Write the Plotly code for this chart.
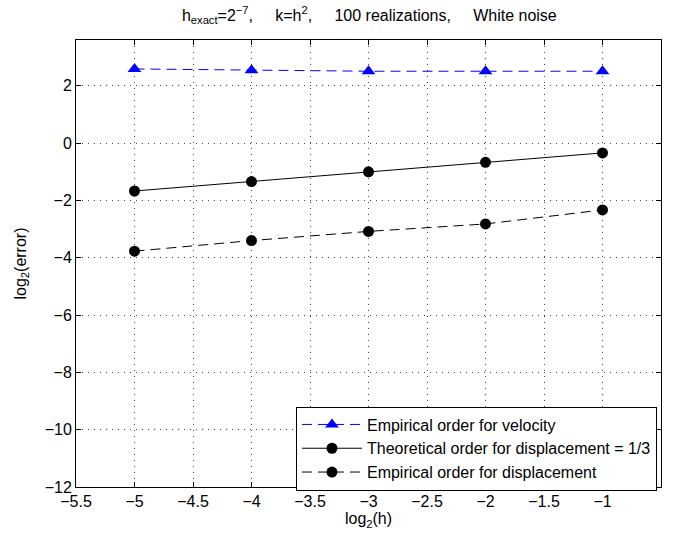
import plotly.graph_objects as go

log2_h = [-5, -4, -3, -2, -1]
vel_emp = [2.59, 2.54, 2.51, 2.51, 2.51]
disp_theo = [-1.67, -1.34, -1.0, -0.67, -0.34]
disp_emp = [-3.77, -3.40, -3.08, -2.82, -2.33]

x_ticks = [-5.5, -5, -4.5, -4, -3.5, -3, -2.5, -2, -1.5, -1, -0.5]
y_ticks = [-12, -10, -8, -6, -4, -2, 0, 2]

def lab(v):
    s = ("%g" % v)
    return s.replace("-", "\u2212")

font = "Liberation Sans, Arial, Helvetica, sans-serif"
FS = 16

fig = go.Figure()
fig.add_trace(go.Scatter(x=log2_h, y=vel_emp, mode="lines+markers",
                         name="Empirical order for velocity",
                         line=dict(color="#0000ff", width=1, dash="10px,6px"),
                         marker=dict(symbol="triangle-up", size=12, color="#0000ff")))
fig.add_trace(go.Scatter(x=log2_h, y=disp_theo, mode="lines+markers",
                         name="Theoretical order for displacement = 1/3",
                         line=dict(color="black", width=1),
                         marker=dict(symbol="circle", size=11, color="black")))
fig.add_trace(go.Scatter(x=log2_h, y=disp_emp, mode="lines+markers",
                         name="Empirical order for displacement",
                         line=dict(color="black", width=1, dash="10px,6px"),
                         marker=dict(symbol="circle", size=11, color="black")))

sp = "&nbsp;" * 5
fig.update_layout(
    width=674, height=533,
    margin=dict(l=76, r=12, t=40, b=44),
    paper_bgcolor="white", plot_bgcolor="white",
    font=dict(family=font, size=FS, color="black"),
    title=dict(text="h<sub>exact</sub>=2<sup>\u22127</sup>," + sp + "k=h<sup>2</sup>," + sp
               + "100 realizations," + sp + "White noise",
               x=0.548, xanchor="center", y=0.972, yanchor="middle",
               font=dict(size=FS)),
    showlegend=True,
    legend=dict(x=0.376, y=0.18, xanchor="left", yanchor="top",
                bgcolor="white", bordercolor="black", borderwidth=1,
                font=dict(size=FS), tracegroupgap=0, itemwidth=60),
)
fig.update_xaxes(range=[-5.5, -0.5], tickvals=x_ticks, ticktext=[lab(v) for v in x_ticks],
                 showline=True, linecolor="black", linewidth=1, mirror="allticks",
                 ticks="inside", ticklen=5, tickcolor="black",
                 showgrid=True, gridcolor="#444444", griddash="1px,5px", gridwidth=1,
                 zeroline=False,
                 title=dict(text="log<sub>2</sub>(h)", standoff=0, font=dict(size=FS)))
fig.update_yaxes(range=[-12, 3.6], tickvals=y_ticks, ticktext=[lab(v) for v in y_ticks],
                 showline=True, linecolor="black", linewidth=1, mirror="allticks",
                 ticks="inside", ticklen=5, tickcolor="black",
                 showgrid=True, gridcolor="#444444", griddash="1px,5px", gridwidth=1,
                 zeroline=False,
                 title=dict(text="log<sub>2</sub>(error)", standoff=14, font=dict(size=FS)))

fig.write_html("out.html")
